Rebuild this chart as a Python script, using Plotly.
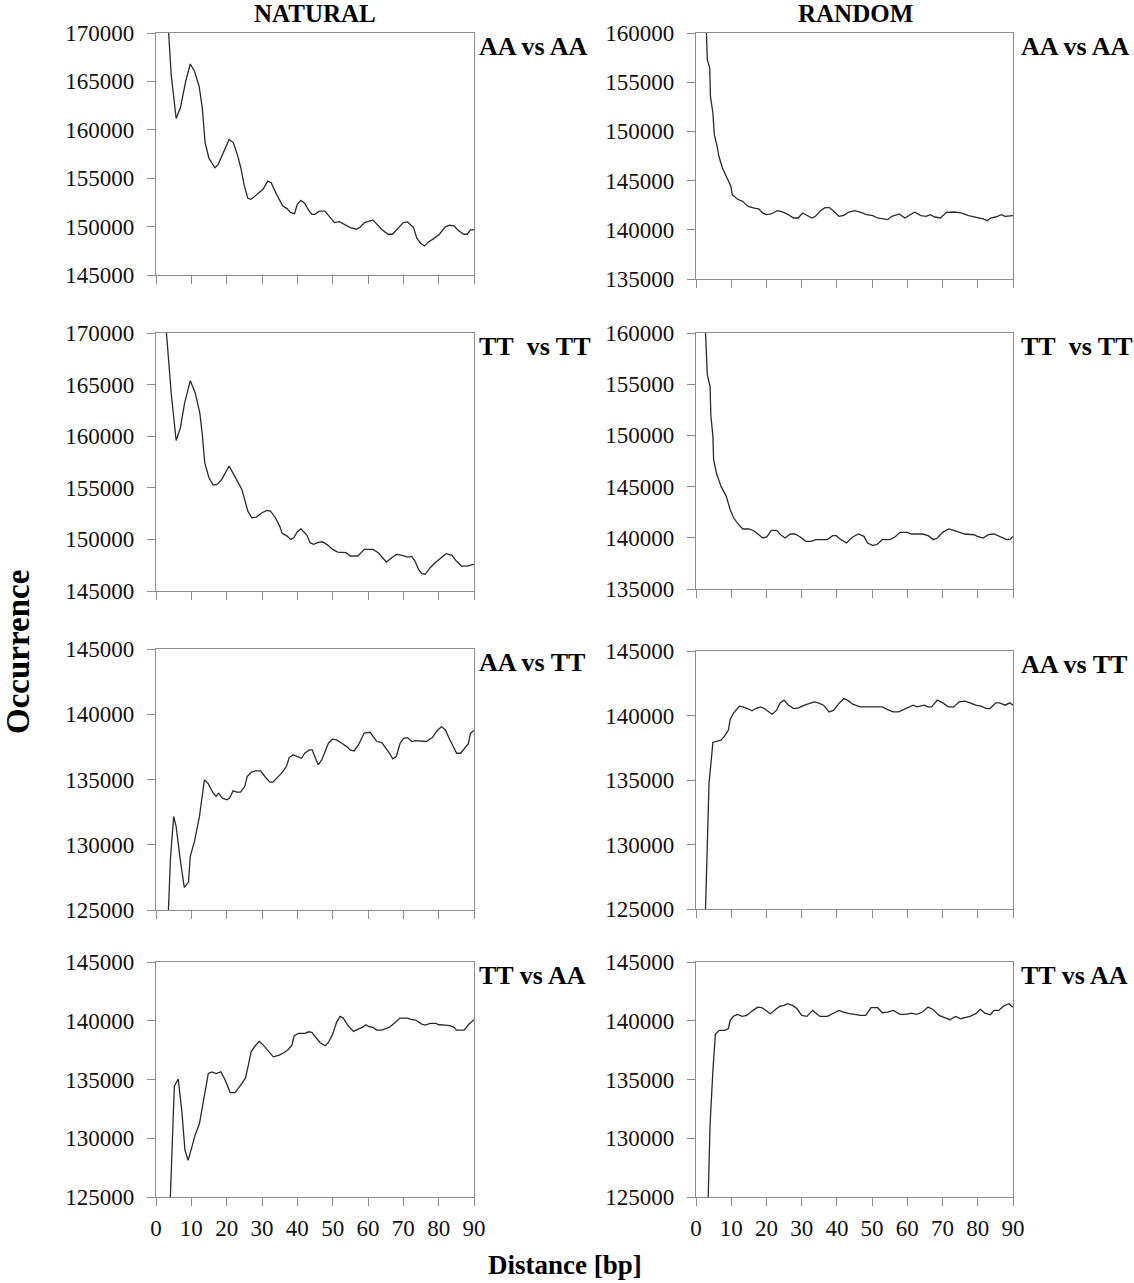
import plotly.graph_objects as go

# ---------------- data (distance in bp, occurrence) ----------------
nat_aaaa_x = [3, 4.3, 5.7, 6.9, 8.4, 9.7, 10.9, 12.2, 13.1, 13.9,
              15, 16.7, 17.6, 19, 20.7, 21.9, 23, 24, 25, 26,
              26.9, 28.6, 30.3, 31.6, 32.6, 34.1, 35.9, 37.1, 38.1, 39.2,
              40, 41, 42.1, 43, 44.1, 45, 46.2, 47.8, 49.2, 50.5,
              51.9, 53.3, 55, 56.7, 57.9, 59, 61.4, 63.8, 65.7, 66.9,
              68.6, 70, 71.2, 72.9, 73.8, 75, 76, 77.1, 78.6, 80.2,
              81.9, 83.1, 84.3, 85.5, 87.1, 88.1, 89, 90]
nat_aaaa_y = [173500, 165700, 161170, 162270, 165000, 166800, 166050, 164500, 162270, 158660,
              157040, 156080, 156430, 157630, 159000, 158660, 157460, 156080, 154200, 152920,
              152820, 153330, 153850, 154700, 154540, 153330, 152130, 151860, 151440, 151340,
              152300, 152710, 152410, 151790, 151270, 151270, 151600, 151600, 150930, 150410,
              150520, 150240, 149900, 149730, 149970, 150410, 150690, 149730, 149210, 149210,
              149900, 150410, 150480, 149900, 148800, 148250, 148000, 148420, 148760, 149210,
              149970, 150140, 150070, 149620, 149210, 149210, 149660, 149660]

nat_tttt_x = [2.5, 3.6, 4.3, 5.7, 6.9, 8.1, 9.7, 11.1, 12.4, 13.1,
              13.8, 15, 16.2, 17.3, 18.6, 20.7, 22.1, 23.3, 24.3, 25,
              26, 27.1, 28.4, 30, 31.4, 32.4, 33.8, 35, 35.7, 37.1,
              38.1, 39, 40, 41, 42.7, 43.6, 44.6, 45.7, 47.1, 48.6,
              50, 51.4, 53.8, 55, 57.1, 59, 61.4, 62.9, 65.2, 66.7,
              68.1, 69.7, 71.2, 72.4, 73.3, 74.3, 75.2, 76.2, 77.6, 79,
              80.5, 82.1, 83.8, 85, 86.5, 88.1, 89.3, 90]
nat_tttt_y = [172000, 167260, 164190, 159580, 160810, 163230, 165390, 164190, 162260, 160160,
              157420, 155970, 155260, 155320, 155810, 157100, 156290, 155480, 154840, 153870,
              152740, 152100, 152160, 152580, 152810, 152740, 152100, 151290, 150580, 150320,
              150000, 150160, 150740, 151030, 150420, 149680, 149520, 149680, 149770, 149450,
              149030, 148770, 148710, 148390, 148390, 149030, 149030, 148710, 147810, 148230,
              148550, 148450, 148290, 148350, 147900, 147100, 146680, 146610, 147260, 147740,
              148130, 148610, 148450, 147900, 147420, 147420, 147520, 147580]

nat_aatt_x = [3, 4.1, 5, 5.7, 6.8, 8, 9.2, 9.7, 10.9, 12.3,
              13.7, 14.7, 16.1, 17, 17.7, 18.8, 20.1, 20.8, 21.8, 22.9,
              23.9, 25.1, 25.8, 27, 28.2, 29.6, 30.8, 32.2, 33.1, 34.6,
              35.8, 37, 37.7, 38.8, 40.2, 41.2, 42.1, 43.4, 44.2, 45.2,
              45.9, 46.9, 47.8, 48.8, 49.9, 51.1, 52.6, 54, 54.9, 56.1,
              57.3, 58.9, 60.6, 61.4, 62.5, 63.9, 65, 66.1, 67, 68,
              69.1, 70.1, 71.2, 72.4, 73.4, 75.3, 76.5, 78.2, 79.5, 80.8,
              81.9, 83.1, 84.3, 85.1, 86.2, 87.3, 88.4, 89, 90]
nat_aatt_y = [121500, 128980, 132170, 131400, 128980, 126730, 127140, 129110, 130260, 132170,
              134970, 134720, 134000, 133700, 133950, 133570, 133440, 133570, 134130, 134030,
              134030, 134460, 135230, 135560, 135660, 135660, 135230, 134800, 134800, 135230,
              135560, 136050, 136680, 136890, 136760, 136630, 137010, 137270, 137270, 136580,
              136120, 136500, 137140, 137780, 138090, 138040, 137780, 137520, 137270, 137190,
              137650, 138550, 138620, 138290, 137910, 137830, 137450, 137010, 136580, 136760,
              137780, 138160, 138210, 137910, 137980, 137960, 137910, 138210, 138720, 139060,
              138800, 138090, 137400, 137010, 137010, 137400, 137750, 138550, 138750]

nat_ttaa_x = [4, 5.2, 6.3, 7.3, 8.2, 9.1, 10.1, 11, 12.3, 13.5,
              14.8, 15.8, 17, 18.4, 19.6, 21, 22.4, 23.8, 25.3, 26.1,
              26.9, 28.1, 29.2, 30.3, 31.9, 33.2, 34.9, 36.3, 37.5, 38.5,
              39.1, 40.3, 42.2, 43.2, 44.1, 45.2, 46.4, 47.9, 48.8, 50,
              51.1, 52.1, 53, 54.4, 55.9, 57.2, 58.4, 59.4, 60.3, 61.4,
              62.5, 63.9, 66, 67.7, 69, 71.2, 72.1, 73.5, 75.2, 76.2,
              77.6, 79.2, 80.1, 82, 83.4, 84.4, 85, 87.2, 88.6, 90]
nat_ttaa_y = [124500, 134460, 135030, 132330, 128980, 128130, 129200, 130200, 131250, 133180,
              135510, 135650, 135510, 135650, 134940, 133890, 133890, 134460, 135110, 136160,
              137360, 137870, 138240, 137950, 137360, 136930, 137070, 137300, 137580, 137950,
              138720, 138920, 138920, 139060, 139010, 138580, 138150, 137870, 138150, 138860,
              139860, 140370, 140230, 139570, 139090, 139290, 139430, 139660, 139490, 139430,
              139200, 139200, 139430, 139860, 140230, 140230, 140110, 140060, 139720, 139630,
              139770, 139770, 139660, 139630, 139570, 139430, 139200, 139200, 139720, 140090]

rnd_aaaa_x = [2.8, 3.2, 3.9, 4.1, 4.8, 5.2, 6, 6.5, 7.5, 8.6,
              9.9, 10.3, 11.7, 13.2, 14.8, 16.3, 17.9, 18.9, 20, 21.3,
              23.1, 24.6, 26.2, 27.7, 29, 30.3, 31.3, 32.9, 33.9, 35.2,
              36.5, 37.8, 39.1, 40.6, 42, 43.2, 45.1, 46.8, 48.4, 50.2,
              51.5, 53.1, 54.4, 55.6, 57.7, 59.3, 60.6, 62, 63.9, 65.3,
              66.5, 67.8, 69.4, 71.1, 73.2, 75.3, 77.4, 79.4, 81.5, 82.7,
              83.6, 85.1, 86.7, 87.7, 90]
rnd_aaaa_y = [162000, 157290, 156440, 153560, 151870, 149670, 148480, 147470, 146280, 145430,
              144420, 143570, 143130, 142890, 142380, 142220, 142110, 141710, 141540, 141610,
              141940, 141810, 141540, 141200, 141200, 141710, 141540, 141200, 141370, 141880,
              142220, 142280, 141880, 141370, 141470, 141780, 141940, 141780, 141540, 141440,
              141200, 141130, 141030, 141370, 141610, 141200, 141440, 141780, 141440, 141370,
              141540, 141300, 141200, 141780, 141810, 141710, 141440, 141300, 141100, 140930,
              141200, 141300, 141540, 141370, 141440]

rnd_tttt_x = [2.6, 3.2, 4, 4.2, 4.8, 5, 5.8, 7.1, 8.6, 9.7,
              10.7, 12.1, 13.3, 14.9, 16.4, 18, 19, 20.1, 21.4, 22.9,
              24, 25.3, 26.8, 28.1, 29.6, 31.2, 32.6, 34.1, 37.3, 38.8,
              39.8, 41.2, 42.7, 44.5, 46.1, 47.7, 48.7, 50.1, 51.3, 52.9,
              55, 56.5, 57.9, 60, 61.2, 64.3, 65.9, 67.4, 68.5, 70.1,
              71.8, 73.2, 74.7, 76.3, 78.9, 79.9, 81.5, 83, 84.6, 86.2,
              88.2, 89.3, 90]
rnd_tttt_y = [161000, 155930, 154790, 152020, 149910, 147630, 146330, 145020, 144050, 142750,
              141930, 141280, 140860, 140860, 140690, 140300, 139980, 140080, 140730, 140730,
              140300, 139980, 140370, 140370, 140080, 139650, 139650, 139820, 139820, 140210,
              140210, 139820, 139490, 140080, 140370, 140140, 139490, 139260, 139330, 139820,
              139820, 140080, 140530, 140530, 140370, 140370, 140210, 139820, 139980, 140560,
              140860, 140730, 140560, 140370, 140300, 140140, 139980, 140300, 140370, 140140,
              139820, 139880, 140140]

rnd_aatt_x = [2.5, 3.7, 4.8, 5.8, 7.1, 8.1, 9.2, 9.7, 10.7, 12.3,
              13.3, 14.6, 15.9, 17, 18.3, 19.4, 20.6, 21.6, 22.9, 23.9,
              25, 26.3, 27.7, 29.1, 30.8, 32, 33.6, 34.7, 36.2, 37.8,
              39.1, 40.4, 42, 43, 44.5, 46.6, 49.7, 52.9, 54.4, 56,
              57.5, 59.1, 60.7, 61.7, 62.7, 63.8, 64.8, 65.9, 66.9, 68.5,
              70.1, 71.6, 73.2, 74.7, 76.3, 77.8, 79.4, 80.9, 82.5, 83.5,
              85.1, 86.2, 87.7, 89.1, 90]
rnd_aatt_y = [123000, 134740, 137910, 138010, 138090, 138400, 138870, 139690, 140210, 140720,
              140670, 140540, 140360, 140540, 140670, 140540, 140280, 140100, 140410, 140980,
              141190, 140800, 140540, 140590, 140800, 140930, 141060, 140980, 140800, 140280,
              140410, 140880, 141310, 141190, 140880, 140670, 140670, 140670, 140460, 140280,
              140280, 140460, 140670, 140800, 140670, 140720, 140800, 140670, 140670, 141190,
              140980, 140670, 140670, 141060, 141110, 140980, 140800, 140720, 140540, 140540,
              140980, 140980, 140800, 140980, 140800]

rnd_ttaa_x = [3.3, 4, 4.8, 5.5, 6.6, 8.1, 9.2, 9.7, 10.7, 11.8,
              13.1, 14.4, 15.9, 17.5, 18.7, 20.1, 21.1, 22.5, 23.7, 25,
              26, 27.4, 28.7, 30, 31.5, 33.1, 34.1, 35.2, 37.3, 38.8,
              40.6, 41.9, 43.5, 45.1, 46.6, 48.2, 49.7, 51.6, 52.9, 54.4,
              56, 57.9, 59.6, 61.2, 62.7, 64.3, 65.9, 67.4, 69, 70.6,
              72.1, 73.7, 75.2, 76.3, 77.8, 79.4, 80.7, 82, 83.6, 84.6,
              86, 87.2, 88.8, 90]
rnd_ttaa_y = [123000, 131220, 135770, 138840, 139180, 139180, 139320, 140030, 140400, 140540,
              140370, 140450, 140820, 141160, 141110, 140820, 140600, 140940, 141220, 141310,
              141450, 141310, 141020, 140450, 140370, 140880, 140600, 140370, 140370, 140600,
              140880, 140740, 140600, 140540, 140450, 140450, 141110, 141110, 140680, 140740,
              140880, 140540, 140540, 140650, 140540, 140740, 141160, 140940, 140450, 140260,
              140090, 140370, 140170, 140260, 140370, 140600, 140970, 140650, 140510, 140880,
              140880, 141220, 141450, 141160]

column_titles = ["NATURAL", "RANDOM"]
panel_labels = ["AA vs AA", "TT\u00a0 vs TT", "AA vs TT", "TT vs AA"]
x_ticks = [0, 10, 20, 30, 40, 50, 60, 70, 80, 90]
y_ranges_natural = [[145000, 170000], [145000, 170000], [125000, 145000], [125000, 145000]]
y_ranges_random = [[135000, 160000], [135000, 160000], [125000, 145000], [125000, 145000]]
x_title = "Distance [bp]"
y_title = "Occurrence"

# ---------------- layout helpers ----------------
W, H = 1134, 1283
FONT = "Liberation Serif, Times New Roman, serif"


def px_x(p):
    return p / W


def px_y(p):
    return 1 - p / H


# panel boxes in pixels: (left, right, top, bottom)
boxes = {
    (0, 0): (156, 474, 33, 275), (0, 1): (696, 1013, 33, 279),
    (1, 0): (156, 474, 333, 591), (1, 1): (696, 1013, 333, 589),
    (2, 0): (156, 474, 649, 910), (2, 1): (696, 1013, 651, 909),
    (3, 0): (156, 474, 962, 1197), (3, 1): (696, 1013, 962, 1197),
}

series = {
    (0, 0): (nat_aaaa_x, nat_aaaa_y), (0, 1): (rnd_aaaa_x, rnd_aaaa_y),
    (1, 0): (nat_tttt_x, nat_tttt_y), (1, 1): (rnd_tttt_x, rnd_tttt_y),
    (2, 0): (nat_aatt_x, nat_aatt_y), (2, 1): (rnd_aatt_x, rnd_aatt_y),
    (3, 0): (nat_ttaa_x, nat_ttaa_y), (3, 1): (rnd_ttaa_x, rnd_ttaa_y),
}

fig = go.Figure()
layout = dict(
    template="none",
    width=W, height=H,
    autosize=False,
    margin=dict(l=0, r=0, t=0, b=0, pad=0, autoexpand=False),
    paper_bgcolor="white", plot_bgcolor="white",
    showlegend=False,
    font=dict(family=FONT, color="#111111", size=20),
)
annotations = []

AXIS_COLOR = "#8c8c8c"
TICK_FONT = dict(family=FONT, size=23, color="#111111")
idx = 0
for r in range(4):
    for c in range(2):
        idx += 1
        left, right, top, bottom = boxes[(r, c)]
        xs, ys = series[(r, c)]
        xname = "x" if idx == 1 else f"x{idx}"
        yname = "y" if idx == 1 else f"y{idx}"
        fig.add_trace(go.Scatter(
            x=xs, y=ys, mode="lines", xaxis=xname, yaxis=yname,
            line=dict(color="#2a2a2a", width=1.3), hoverinfo="skip",
        ))
        yr = y_ranges_natural[r] if c == 0 else y_ranges_random[r]
        xkey = "xaxis" if idx == 1 else f"xaxis{idx}"
        ykey = "yaxis" if idx == 1 else f"yaxis{idx}"
        layout[xkey] = dict(
            domain=[px_x(left), px_x(right)], anchor=yname, range=[0, 90],
            automargin=False,
            tickmode="array", tickvals=x_ticks, ticktext=[str(t) for t in x_ticks],
            showticklabels=(r == 3), ticks="outside", ticklen=8, tickwidth=1,
            tickcolor=AXIS_COLOR, showline=True, linecolor=AXIS_COLOR, linewidth=1.2,
            mirror=True, showgrid=False, zeroline=False, fixedrange=True,
            tickfont=TICK_FONT, ticklabelstandoff=2,
        )
        layout[ykey] = dict(
            domain=[px_y(bottom), px_y(top)], anchor=xname, range=yr,
            automargin=False,
            dtick=5000, tick0=0, tickformat="d",
            ticks="outside", ticklen=8, tickwidth=1, tickcolor=AXIS_COLOR,
            showline=True, linecolor=AXIS_COLOR, linewidth=1.2, mirror=True,
            showgrid=False, zeroline=False, fixedrange=True,
            tickfont=TICK_FONT, ticklabelstandoff=8,
        )
        # panel label
        annotations.append(dict(
            x=px_x(477 if c == 0 else 1019), y=px_y(top + 13),
            xref="paper", yref="paper", xanchor="left", yanchor="middle",
            text=f"<b>{panel_labels[r]}</b>", showarrow=False,
            font=dict(family=FONT, size=26, color="#000000"),
        ))

# column titles
for title, cx in zip(column_titles, [315, 855]):
    annotations.append(dict(x=px_x(cx), y=px_y(14), xref="paper", yref="paper",
                            text=f"<b>{title}</b>", showarrow=False,
                            xanchor="center", yanchor="middle",
                            font=dict(family=FONT, size=25, color="#000000")))
# axis titles
annotations.append(dict(x=px_x(18), y=px_y(652), xref="paper", yref="paper",
                        text=f"<b>{y_title}</b>", showarrow=False, textangle=-90,
                        xanchor="center", yanchor="middle",
                        font=dict(family=FONT, size=33, color="#000000")))
annotations.append(dict(x=px_x(565), y=px_y(1265), xref="paper", yref="paper",
                        text=f"<b>{x_title}</b>", showarrow=False,
                        xanchor="center", yanchor="middle",
                        font=dict(family=FONT, size=27, color="#000000")))

layout["annotations"] = annotations
fig.update_layout(**layout)
fig.write_html(
    "out.html",
    config={"displayModeBar": False},
    post_script="document.body.style.margin='0px';document.body.style.overflow='hidden';",
)
